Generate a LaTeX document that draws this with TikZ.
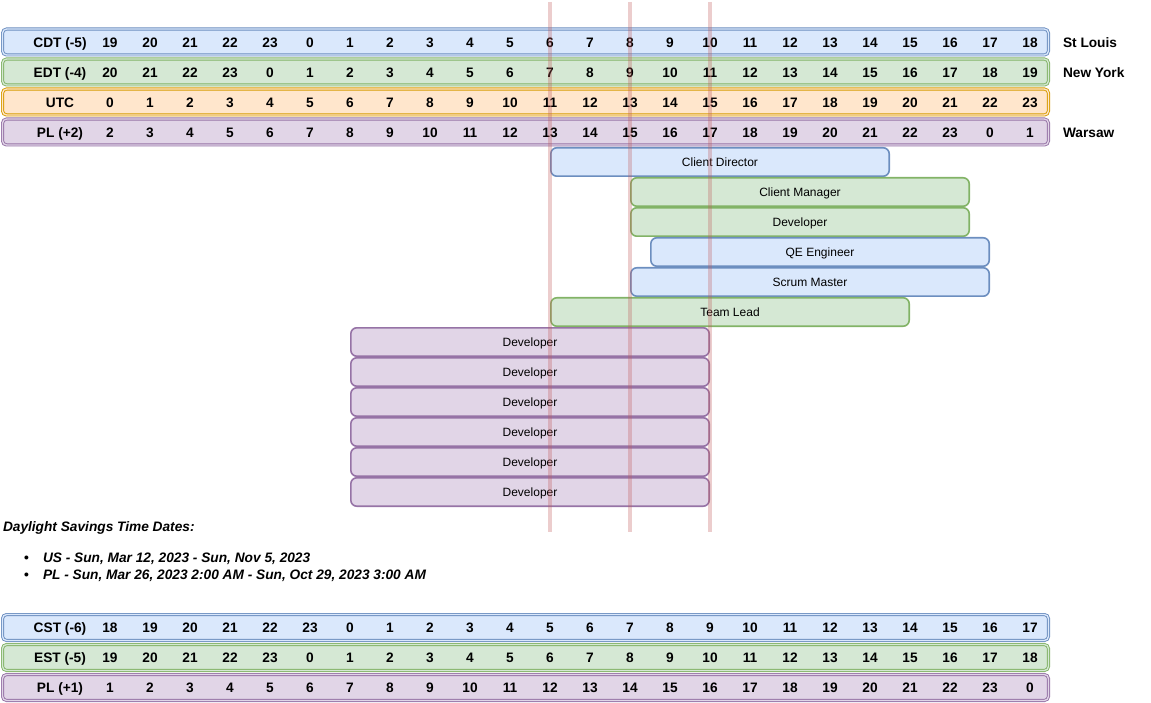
\documentclass[tikz,border=0pt]{standalone}
\usepackage{fontspec}
\setmainfont{Liberation Sans}
\definecolor{blueF}{HTML}{DAE8FC}\definecolor{blueS}{HTML}{6C8EBF}
\definecolor{greenF}{HTML}{D5E8D4}\definecolor{greenS}{HTML}{82B366}
\definecolor{orangeF}{HTML}{FFE6CC}\definecolor{orangeS}{HTML}{D79B00}
\definecolor{purpleF}{HTML}{E1D5E7}\definecolor{purpleS}{HTML}{9673A6}
\definecolor{redL}{HTML}{C05A5A}
\begin{document}
\begin{tikzpicture}[x=1pt,y=-1pt,
  every node/.style={inner sep=0pt, outer sep=0pt},
  hdr/.style={font=\fontsize{13.7}{16}\selectfont\bfseries, text height=9.8pt, text depth=0pt},
  rowbox/.style 2 args={draw=#1, fill=#2, double=#2, double distance=1.3pt, line width=0.9pt,
    rounded corners=4pt, minimum width=1045.9pt, minimum height=25.9pt},
  bar/.style 2 args={draw=#1, fill=#2, line width=1.6pt, rounded corners=6pt,
    minimum height=28.4pt, font=\fontsize{12}{14}\selectfont, text height=8.6pt, text depth=0pt},
  redline/.style={draw=redL, line width=4pt, opacity=0.3},
  note/.style={font=\fontsize{13.7}{16}\selectfont\bfseries\itshape, text height=9.8pt, text depth=0pt, anchor=west}]
\useasboundingbox (0,0) rectangle (1151,703);

% ---- top time rows ----
\node[rowbox={blueS}{blueF}]     (cdt) at (525.5,42) {};
\node[rowbox={greenS}{greenF}]   (edt) at (525.5,72) {};
\node[rowbox={orangeS}{orangeF}] (utc) at (525.5,102) {};
\node[rowbox={purpleS}{purpleF}] (plA) at (525.5,132) {};

\node[hdr] (cdtL) at (60,42.5) {CDT (-5)};
\node[hdr] (edtL) at (60,72.5) {EDT (-4)};
\node[hdr] (utcL) at (60,102.5) {UTC};
\node[hdr] (plAL) at (60,132.5) {PL (+2)};

\foreach \i in {0,...,23}{
  \pgfmathtruncatemacro{\a}{mod(19+\i,24)}
  \pgfmathtruncatemacro{\b}{mod(20+\i,24)}
  \pgfmathtruncatemacro{\c}{\i}
  \pgfmathtruncatemacro{\d}{mod(2+\i,24)}
  \node[hdr] (cdt\i) at (110+40*\i,42.5) {\a};
  \node[hdr] (edt\i) at (110+40*\i,72.5) {\b};
  \node[hdr] (utc\i) at (110+40*\i,102.5) {\c};
  \node[hdr] (plA\i) at (110+40*\i,132.5) {\d};
}

\node[hdr, anchor=west] (stl) at (1063,42.5) {St Louis};
\node[hdr, anchor=west] (nyc) at (1063,72.5) {New York};
\node[hdr, anchor=west] (waw) at (1063,132.5) {Warsaw};

% ---- role bars ----
\node[bar={blueS}{blueF}, minimum width=338.4pt]   (cd)  at (720,162) {Client Director};
\node[bar={greenS}{greenF}, minimum width=338.4pt] (cm)  at (800,192) {Client Manager};
\node[bar={greenS}{greenF}, minimum width=338.4pt] (dv)  at (800,222) {Developer};
\node[bar={blueS}{blueF}, minimum width=338.4pt]   (qe)  at (820,252) {QE Engineer};
\node[bar={blueS}{blueF}, minimum width=358.4pt]   (sm)  at (810,282) {Scrum Master};
\node[bar={greenS}{greenF}, minimum width=358.4pt] (tl)  at (730,312) {Team Lead};
\foreach \j in {0,...,5}{
  \node[bar={purpleS}{purpleF}, minimum width=358.4pt] (pd\j) at (530,342+30*\j) {Developer};
}

% ---- vertical markers ----
\coordinate (v1t) at (550,2);   \coordinate (v1b) at (550,532);
\coordinate (v2t) at (630,2);   \coordinate (v2b) at (630,532);
\coordinate (v3t) at (710,2);   \coordinate (v3b) at (710,532);
\draw[redline] (v1t) -- (v1b);
\draw[redline] (v2t) -- (v2b);
\draw[redline] (v3t) -- (v3b);

% ---- notes ----
\node[note] (ttl) at (3,527) {Daylight Savings Time Dates:};
\node[note] (b1) at (24,558) {\normalfont\bfseries\fontsize{13.7}{16}\selectfont •};
\node[note] (n1) at (43,558) {US - Sun, Mar 12, 2023 - Sun, Nov 5, 2023};
\node[note] (b2) at (24,575) {\normalfont\bfseries\fontsize{13.7}{16}\selectfont •};
\node[note] (n2) at (43,575) {PL - Sun, Mar 26, 2023 2:00 AM - Sun, Oct 29, 2023 3:00 AM};

% ---- bottom time rows ----
\node[rowbox={blueS}{blueF}]     (cst) at (525.5,627.5) {};
\node[rowbox={greenS}{greenF}]   (est) at (525.5,657.5) {};
\node[rowbox={purpleS}{purpleF}] (plB) at (525.5,687.5) {};

\node[hdr] (cstL) at (60,628) {CST (-6)};
\node[hdr] (estL) at (60,658) {EST (-5)};
\node[hdr] (plBL) at (60,688) {PL (+1)};

\foreach \i in {0,...,23}{
  \pgfmathtruncatemacro{\a}{mod(18+\i,24)}
  \pgfmathtruncatemacro{\b}{mod(19+\i,24)}
  \pgfmathtruncatemacro{\d}{mod(1+\i,24)}
  \node[hdr] (cst\i) at (110+40*\i,628) {\a};
  \node[hdr] (est\i) at (110+40*\i,658) {\b};
  \node[hdr] (plB\i) at (110+40*\i,688) {\d};
}
\end{tikzpicture}
\end{document}
